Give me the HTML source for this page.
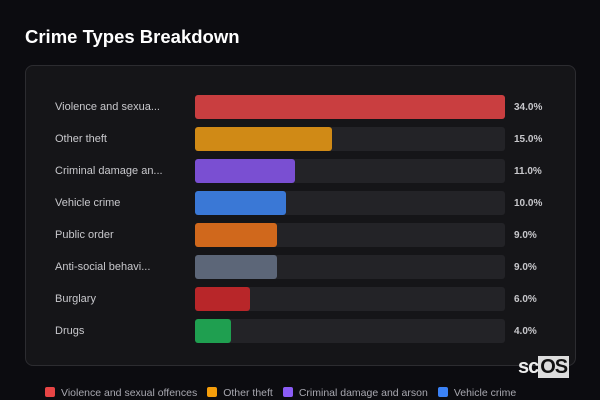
<!DOCTYPE html>
<html><head><meta charset="utf-8"><style>
body{margin:0;width:600px;height:400px;overflow:hidden;background:#0c0c10;font-family:"Liberation Sans",sans-serif;position:relative}
#title{position:absolute;left:25px;top:26px;color:#fff;font-weight:bold;font-size:18.5px}
#panel{position:absolute;left:25px;top:65px;width:549px;height:299px;background:#151518;border:1px solid #2c2c30;border-radius:8px}
.lab{position:absolute;left:55px;color:#c8c8cc;font-size:11px}
.val{position:absolute;left:514px;color:#c8c8cc;font-size:10px;font-weight:bold}
.track{position:absolute;left:195px;width:310px;height:24px;background:#232327;border-radius:3px}
.bar{position:absolute;left:195px;height:24px;border-radius:3px}
#legend{position:absolute;top:387px;left:45px;font-size:10.5px;color:#a8a8b0;white-space:nowrap}
#legend span{display:inline-block;margin-right:10px}
#legend i{display:inline-block;width:10px;height:10px;border-radius:2px;margin-right:6px;vertical-align:-1px}
#logo{position:absolute;left:518px;top:356px;font-size:20px;font-weight:bold;color:#eee;letter-spacing:-1px}
#logo b{background:#ddd;color:#111;padding:0 2px}
</style></head><body>
<div id="title">Crime Types Breakdown</div>
<div id="panel"></div>
<div id="rows"></div>
<div id="legend"></div>
<div id="logo">sc<b>OS</b></div>
<script>
const categories=["Violence and sexual offences","Other theft","Criminal damage and arson","Vehicle crime","Public order","Anti-social behaviour","Burglary","Drugs"];
const shortLabels=["Violence and sexua...","Other theft","Criminal damage an...","Vehicle crime","Public order","Anti-social behavi...","Burglary","Drugs"];
const values=[34,15,11,10,9,9,6,4];
const valueLabels=["34.0%","15.0%","11.0%","10.0%","9.0%","9.0%","6.0%","4.0%"];
const colors=["#c93e40","#d08a16","#7a4fd2","#3a78d6","#d0681c","#5c6678","#b82629","#1f9f50"];
const legendColors=["#e84545","#f59e0b","#8b5cf6","#3b82f6"];
const maxV=Math.max(...values),W=310;
const x=v=>v/maxV*W;
const rows=document.getElementById('rows');
values.forEach((v,i)=>{
  const cy=107+i*32;
  const l=document.createElement('div');l.className='lab';l.style.top=(cy-6)+'px';l.textContent=shortLabels[i];
  
  
  const t=document.createElement('div');t.className='track';t.style.top=(cy-12)+'px';
  
  
  const b=document.createElement('div');b.className='bar';b.style.top=(cy-12)+'px';b.style.width=x(v)+'px';b.style.background=colors[i];
  
  
  const vl=document.createElement('div');vl.className='val';vl.style.top=(cy-5)+'px';vl.textContent=valueLabels[i];
  
  
  rows.append(l,t,b,vl);
});
const lg=document.getElementById('legend');
categories.slice(0,4).forEach((c,i)=>{
  const s=document.createElement('span');s.innerHTML='<i style="background:'+legendColors[i]+'"></i>'+c;
  
  
  lg.appendChild(s);
});
</script>
</body></html>
